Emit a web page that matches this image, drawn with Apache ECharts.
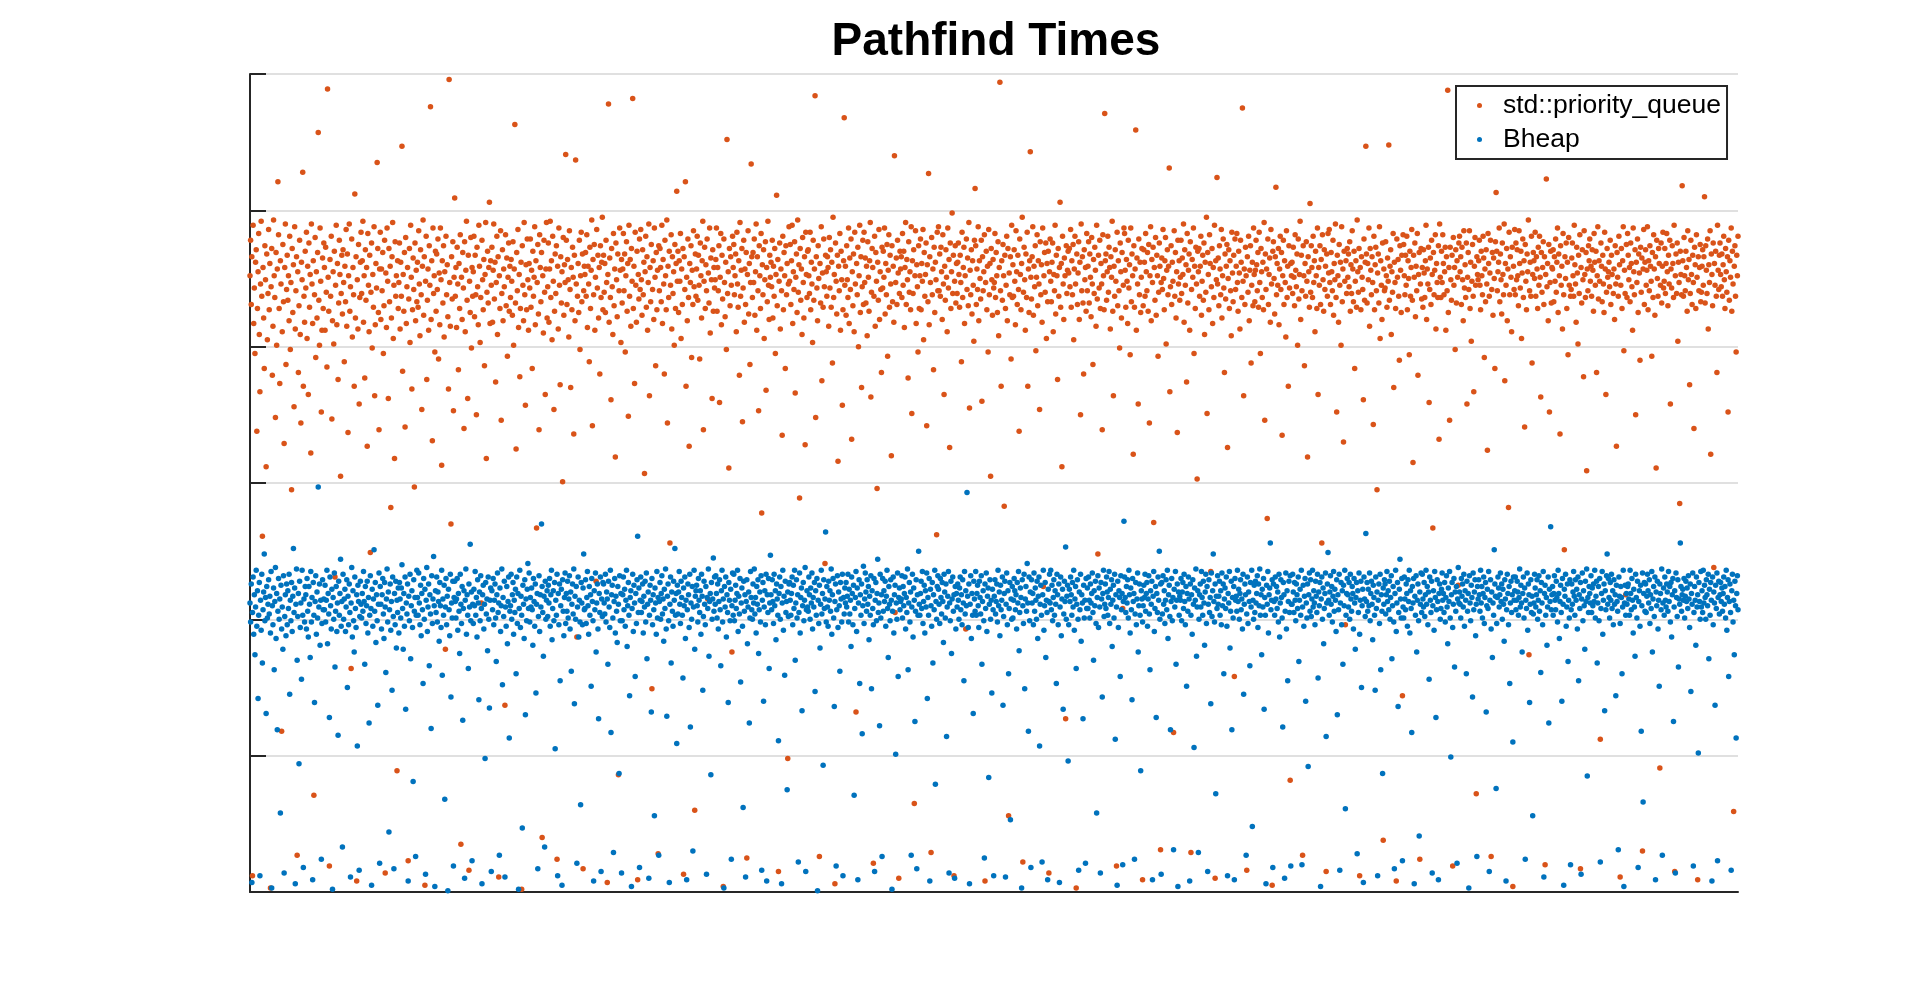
<!DOCTYPE html>
<html>
<head>
<meta charset="utf-8">
<title>Pathfind Times</title>
<script src="https://cdn.jsdelivr.net/npm/echarts@6/dist/echarts.min.js"></script>
<style>
  html, body { margin: 0; padding: 0; background: #fff; }
  #chart { width: 1920px; height: 1003px; }
</style>
</head>
<body>
<div id="chart"></div>
<script>
// series names, in plotting order (blue is drawn last, on top)
const seriesNames = ['std::priority_queue', 'Bheap']
const seriesColors = ['#D95319', '#0072BD']

// y ticks (no labels are shown in the figure)
const yTicks = [0, 100, 200, 300, 400, 500, 600]

// pathfind time per run (x = run index)
const priorityQueueTimes = [
452,478,431,466,12,489,417,443,395,462,471,338,428,455,483,409,367,446,492,437,261,458,421,384,474,449,312,468,405,439,
486,427,461,3,444,472,379,415,493,452,436,348,469,401,457,521,482,428,373,463,446,118,411,475,433,329,458,490,387,442,
467,434,452,419,481,398,447,295,472,425,460,356,488,413,441,466,27,455,381,430,478,409,344,462,449,528,371,437,418,470,
443,484,406,459,365,476,429,453,322,490,446,417,463,71,438,480,392,455,421,469,557,434,401,487,448,352,412,465,428,476,
458,412,473,440,385,589,451,426,19,464,437,481,347,419,455,402,470,231,445,489,416,461,376,432,478,453,305,439,467,424,
471,447,389,459,433,486,415,468,337,452,490,426,444,164,479,407,458,438,371,512,421,466,8,449,413,475,358,436,462,484,
439,463,492,418,452,377,471,434,458,327,483,445,411,467,249,440,476,399,453,429,488,364,416,461,443,535,472,425,339,457,
484,420,457,441,469,395,430,478,14,454,414,487,448,362,472,433,459,282,421,466,491,406,445,318,477,437,452,89,463,428,
447,476,413,462,437,547,382,453,426,469,341,480,417,444,458,23,435,472,403,489,451,369,427,465,442,297,476,419,456,433,
462,429,485,446,408,471,438,354,459,493,423,466,5,448,481,376,434,457,412,474,445,576,420,463,331,487,439,452,396,470,
426,468,442,479,391,454,416,487,449,313,463,432,474,407,455,178,481,438,460,422,369,596,447,415,270,466,435,477,353,451,
509,437,458,414,473,446,383,461,428,482,35,451,420,469,443,340,477,411,456,492,434,362,467,16,448,425,480,399,458,437,
455,481,422,467,438,350,473,444,416,489,459,403,436,212,478,449,427,464,386,453,491,318,440,470,432,458,506,417,463,445,
473,418,456,490,435,462,374,447,481,409,466,11,452,428,485,346,439,471,419,457,444,137,482,430,465,393,451,476,426,459,
436,464,448,423,477,401,457,563,432,325,469,441,486,414,453,378,428,462,2,474,445,419,491,438,357,460,427,479,449,412,
461,443,479,429,456,384,470,437,451,488,416,463,267,447,475,424,339,482,458,433,469,40,452,410,478,440,365,457,491,421,
444,476,418,457,492,436,463,405,481,448,354,426,468,439,474,24,459,413,487,445,372,466,432,455,301,480,423,460,447,541,
478,431,464,449,407,485,442,370,458,427,473,451,336,467,419,537,446,187,437,461,425,478,398,452,484,433,468,17,441,459,
453,469,437,482,414,459,446,389,473,428,456,493,342,464,438,475,412,451,228,486,443,467,421,458,380,474,436,462,495,427,
467,440,461,425,478,447,7,453,578,418,465,436,361,472,444,409,483,430,457,319,476,449,422,468,86,441,487,456,403,464,
432,457,483,441,468,396,452,477,426,461,349,489,437,464,415,472,448,582,428,459,373,484,445,418,470,9,453,435,479,442,
486,449,423,471,438,462,307,455,481,429,466,412,447,490,364,458,433,475,149,442,463,420,487,451,386,469,427,456,28,474,
441,472,458,433,489,417,464,446,380,478,452,427,493,344,459,436,470,256,445,482,413,466,439,455,401,475,428,461,514,448,
470,425,463,448,483,406,457,431,472,13,466,442,521,371,451,419,479,436,327,461,447,474,392,456,431,485,444,60,468,437,
457,481,434,467,445,391,476,452,421,463,492,339,448,473,428,460,441,479,215,454,432,487,410,465,449,362,471,426,458,443,
449,464,487,426,458,441,474,359,451,483,416,467,435,4,479,447,422,462,398,552,439,455,311,472,430,466,445,176,481,458,
475,438,452,468,411,484,446,429,463,379,491,437,456,472,345,443,478,418,457,431,469,25,453,485,424,461,387,447,534,466,
436,469,447,479,423,455,490,412,466,441,353,474,452,428,483,278,460,438,471,406,449,477,368,458,433,492,445,420,467,451,
462,444,478,421,459,437,472,395,453,511,430,464,15,448,476,413,457,441,335,481,427,469,452,384,474,438,461,98,446,488,
448,475,431,463,489,417,455,442,477,366,451,468,425,493,440,460,289,472,434,457,409,480,447,421,466,328,484,453,436,470,
471,452,439,484,427,462,446,403,478,434,457,584,348,466,443,419,474,450,26,461,432,488,375,454,429,479,444,241,467,455,
437,466,458,415,480,443,471,429,462,388,495,436,453,6,476,448,424,467,316,459,441,483,412,470,449,357,427,463,568,445,
459,423,474,449,436,487,417,465,442,479,332,455,430,468,411,484,446,132,461,438,473,400,452,489,425,466,370,444,478,431,
484,447,465,432,459,408,477,451,426,463,491,363,440,472,458,21,437,481,415,469,448,296,462,434,486,420,455,442,381,473,
443,470,451,487,424,461,438,475,393,456,482,429,467,446,320,474,433,459,418,540,205,447,465,431,478,454,10,439,470,457,
466,436,483,445,470,414,458,491,431,464,449,377,477,440,455,427,488,351,463,439,471,65,452,485,417,460,444,396,474,428,
452,479,427,461,448,486,405,469,437,453,476,342,460,433,527,416,466,447,29,480,438,457,383,473,425,462,449,262,484,441,
488,441,468,437,473,455,420,482,446,365,459,434,471,451,411,487,443,464,326,476,428,455,498,439,467,12,448,474,432,461,
439,462,476,453,429,467,447,389,484,436,458,473,417,452,193,479,442,465,430,491,355,456,438,471,424,463,445,404,478,516,
474,431,457,442,488,419,463,450,435,478,360,466,441,455,482,8,447,470,427,459,396,486,438,461,305,472,449,423,464,443,
447,483,436,469,452,425,477,408,458,594,441,371,463,434,475,452,283,467,428,445,481,419,472,56,454,438,466,391,489,436,
460,437,471,448,416,485,455,431,467,442,338,479,453,427,461,495,22,440,473,449,412,468,436,484,371,457,425,463,543,451,
435,466,488,423,459,444,474,397,451,482,430,463,446,354,477,438,460,418,487,224,452,469,440,476,406,461,433,470,14,455,
479,448,433,462,476,411,453,441,489,424,467,452,376,472,437,458,506,429,461,312,481,446,420,465,452,127,474,439,456,470,
454,472,444,486,429,463,438,475,405,457,481,446,3,468,431,454,477,420,462,350,490,441,466,432,380,471,449,458,426,483,
441,459,477,432,468,451,422,480,446,387,464,439,473,456,415,489,435,248,467,443,478,428,461,446,339,482,452,427,571,463,
468,434,455,481,440,473,458,413,466,451,492,426,364,459,437,471,448,19,484,430,463,441,399,476,455,421,469,208,445,487,
483,456,429,464,448,417,478,443,460,394,487,433,468,452,321,474,429,457,559,412,465,446,358,479,438,462,425,451,472,9,
430,471,462,437,483,455,441,469,426,475,344,452,488,419,464,447,473,271,458,434,480,423,467,452,393,440,476,459,31,447,
465,442,486,450,427,463,480,402,456,471,438,459,531,367,444,474,431,462,448,117,485,437,469,421,455,337,478,446,463,434,
451,478,439,465,453,490,418,471,445,460,374,483,432,456,468,412,477,29,442,464,451,487,395,459,428,473,446,303,470,455,
472,437,459,481,423,448,467,434,476,409,462,440,495,351,469,453,427,482,461,235,444,472,417,458,436,489,10,463,449,524,
446,465,430,474,457,438,486,421,452,479,443,381,468,435,459,475,326,450,471,428,463,441,408,484,454,433,467,158,479,442,
459,483,447,426,470,454,413,478,462,436,575,448,364,457,431,473,452,16,466,440,481,419,456,474,388,445,462,430,487,453,
433,456,478,460,441,469,429,484,447,395,472,455,436,462,427,491,346,468,442,457,274,479,431,453,465,418,486,446,5,470,
477,450,424,466,517,438,461,445,472,416,457,481,442,469,335,452,478,431,463,447,407,485,436,459,371,474,443,82,461,452,
462,439,473,451,430,482,456,444,468,401,479,435,453,492,420,467,441,27,474,452,386,461,437,477,448,319,466,455,429,505,
440,474,458,436,481,447,463,411,470,452,428,487,365,458,445,474,431,464,256,482,449,426,471,442,459,15,468,437,483,454,
486,447,431,469,455,441,478,423,461,449,490,436,352,467,452,418,475,445,462,401,488,433,457,330,470,448,196,463,439,472,
451,468,444,477,426,460,439,485,457,433,470,384,448,463,429,493,455,440,472,12,458,427,466,451,442,361,479,434,462,547,
468,432,461,449,487,415,472,456,438,466,447,343,481,427,460,473,441,295,454,468,432,488,406,463,445,420,476,38,457,441,
443,477,452,429,465,448,548,434,459,471,409,455,440,483,370,462,447,428,8,479,451,464,437,390,474,456,425,467,144,482,
475,452,438,467,445,481,427,463,450,394,470,437,458,486,434,315,467,451,476,422,459,441,483,379,453,469,24,446,472,435,
458,429,471,454,436,463,489,420,457,446,473,359,442,465,431,478,453,267,469,438,456,482,413,461,447,436,474,332,490,451,
436,470,447,482,461,438,455,473,412,466,441,588,425,458,346,473,449,434,467,19,480,445,458,398,471,432,463,451,225,476,
481,455,466,431,473,449,419,485,443,460,436,476,358,451,469,442,485,428,462,404,448,475,437,367,459,480,445,72,466,453,
449,463,478,445,427,470,452,438,481,465,392,457,433,471,446,324,483,461,437,454,478,26,442,469,423,465,450,384,477,513,
470,441,455,462,487,433,468,449,424,476,453,438,490,375,461,445,472,419,457,282,484,438,466,451,411,473,4,459,442,486,
438,476,449,471,452,430,485,461,443,470,406,454,479,436,463,341,475,448,427,468,455,493,174,441,462,437,481,388,453,469,
463,450,484,437,466,457,428,473,445,481,451,363,469,440,458,477,431,466,20,453,523,444,461,419,475,352,447,470,432,458,
457,471,433,466,448,479,440,462,487,425,468,452,336,474,445,459,413,483,438,251,466,450,476,428,462,394,480,445,541,437,
442,465,476,452,437,489,460,446,418,473,454,402,467,439,482,17,458,432,471,449,378,485,453,436,469,309,457,441,474,463,
479,448,459,437,471,456,426,483,462,445,470,381,452,488,435,463,448,112,476,459,433,467,446,425,484,457,365,440,472,451,
455,462,444,478,431,467,453,566,439,457,420,474,446,327,469,451,437,481,460,11,445,472,428,463,488,397,456,439,218,475,
436,483,467,449,458,433,476,461,444,412,487,455,438,471,350,462,447,479,425,468,454,390,473,440,465,30,457,486,431,462,
471,445,456,488,427,463,441,474,459,448,393,469,436,482,457,423,466,311,478,450,437,472,461,91,445,476,432,459,484,443,
448,472,439,461,483,455,430,467,446,478,358,457,443,474,461,436,489,15,452,468,439,476,404,462,447,285,470,453,438,518,
463,437,480,452,441,470,458,426,485,449,464,372,439,478,453,431,467,447,340,473,460,428,482,451,9,466,441,458,475,433,
440,459,471,445,466,510,432,474,456,439,479,413,460,447,485,321,468,453,430,476,238,461,445,470,437,381,489,456,442,467,
476,453,444,468,437,460,481,449,428,472,455,440,466,352,478,434,463,451,487,426,470,446,59,459,474,437,396,467,452,481
]

const bheapTimes = [
212,198,226,7,205,231,189,218,174,209,236,195,221,142,203,227,12,214,192,233,168,207,220,248,199,216,131,224,201,211,
229,204,217,190,235,3,210,196,223,163,213,238,186,219,119,206,230,200,215,58,225,193,209,178,232,14,202,218,188,226,
196,221,208,233,145,214,199,227,191,217,252,205,223,6,211,237,170,202,219,94,228,194,212,156,236,203,18,215,198,224,
218,193,230,206,187,224,211,172,235,198,216,9,227,203,139,213,232,189,220,201,297,209,226,181,214,24,197,229,207,215,
207,225,198,214,236,182,219,204,128,231,210,193,222,2,216,200,234,165,206,224,191,212,115,228,203,219,244,195,213,33,
233,200,215,222,191,209,229,150,217,196,226,205,11,212,238,187,221,199,176,231,208,194,218,107,225,213,16,202,228,211,
201,219,206,235,213,167,224,197,210,228,190,216,124,203,232,208,5,222,195,215,251,206,227,183,218,199,137,211,234,21,
224,211,193,218,230,204,186,227,209,161,215,237,198,220,44,207,226,192,213,148,231,202,17,219,196,228,179,214,205,223,
190,227,215,201,223,240,208,178,219,195,231,134,212,204,226,8,217,199,233,171,210,221,194,81,229,206,216,26,203,236,
216,203,234,212,196,225,188,219,207,153,230,200,222,13,214,238,191,209,226,166,218,204,120,232,197,215,246,210,4,221,
205,231,198,220,213,184,227,210,194,236,159,215,203,225,68,209,230,196,217,1,222,207,188,233,143,212,201,228,19,216,
228,213,201,215,230,192,219,206,175,233,211,197,224,126,208,221,10,214,237,189,218,203,164,226,209,255,199,220,23,211,
197,222,210,235,203,216,187,229,212,141,220,199,232,208,6,218,225,193,211,98,227,204,215,177,231,200,135,214,223,15,
221,207,230,196,214,226,201,169,218,234,205,212,27,223,191,210,237,152,216,202,228,11,209,195,224,182,213,231,113,206,
210,233,200,218,227,189,214,205,222,160,231,197,219,2,208,236,194,217,203,47,225,211,186,229,130,215,199,222,241,208,
234,198,216,209,223,207,181,230,213,195,226,146,211,219,17,202,232,191,218,209,270,224,205,173,217,33,228,200,214,221,
202,225,212,230,195,218,236,185,208,221,199,227,105,214,203,233,12,219,196,226,155,210,222,5,229,206,188,216,234,197,
219,206,228,201,215,232,193,220,162,211,226,204,237,138,217,200,224,21,209,231,187,214,198,64,227,212,196,223,248,207,
208,229,197,216,235,210,189,224,203,218,151,230,213,199,8,221,207,234,176,212,226,193,127,219,205,231,15,215,202,227,
226,212,204,233,198,220,215,167,228,209,194,236,117,218,225,201,29,213,230,190,217,206,183,224,211,87,232,199,219,14,
199,218,231,207,222,195,214,236,180,210,227,203,144,216,221,4,208,233,191,225,212,158,219,197,229,261,205,223,18,214,
231,205,213,226,190,217,209,228,198,234,171,211,220,10,203,225,214,132,230,196,218,207,56,223,212,189,235,201,216,27,
213,227,200,219,232,204,215,184,222,208,237,193,129,217,226,199,7,211,231,168,220,206,195,228,214,252,203,219,109,225,
204,220,235,211,197,228,216,203,157,223,210,231,186,214,9,207,226,218,194,233,121,212,200,224,30,209,236,178,217,221,
225,210,198,230,214,205,221,189,233,217,148,202,228,211,196,224,13,216,208,237,173,213,219,86,227,200,215,245,206,231,
211,232,219,201,226,193,213,229,207,166,221,236,198,215,3,224,209,231,187,218,205,139,227,214,199,222,24,210,234,203,
233,199,214,225,208,219,236,191,217,204,230,154,212,223,195,62,228,206,218,11,213,229,182,209,220,124,201,235,216,207,
200,226,212,237,204,216,190,224,211,229,175,207,220,198,232,16,214,227,140,209,221,196,233,8,218,205,230,164,212,247,
218,207,229,213,197,233,210,221,185,226,215,203,111,219,231,200,224,6,212,236,192,217,159,228,205,213,75,220,202,226,
227,214,203,219,231,196,225,208,236,170,212,229,201,218,22,205,234,190,216,223,133,210,227,199,214,238,15,207,221,209,
206,231,218,200,223,212,234,193,216,209,227,147,221,203,230,1,214,197,225,179,211,236,204,219,93,229,208,215,264,198,
224,209,195,228,214,221,206,237,189,218,230,201,136,213,226,19,207,232,194,220,210,162,227,215,198,233,12,216,204,223,
212,227,209,217,233,198,222,204,214,180,231,219,196,225,71,208,216,235,191,223,9,212,229,153,218,203,226,116,210,239,
197,215,234,220,206,229,211,224,185,217,203,232,149,221,208,196,230,15,214,227,199,219,244,205,212,122,233,201,218,26,
230,206,221,213,228,195,217,236,208,172,224,211,199,229,214,2,206,231,190,218,225,101,212,200,234,158,216,223,207,213,
215,232,201,224,210,219,231,193,216,205,237,163,212,227,198,220,27,209,233,187,223,214,125,206,229,17,218,203,250,211,
203,219,228,208,235,197,213,225,190,221,209,234,142,216,203,230,8,222,210,195,227,168,218,207,236,79,213,200,224,232,
222,211,197,230,216,204,227,213,183,233,220,201,226,114,209,217,235,14,212,199,228,175,215,231,206,218,10,224,193,219,
209,226,214,200,223,231,207,218,196,229,212,155,235,204,221,210,293,217,194,226,6,211,232,186,219,203,131,228,215,206,
235,203,219,225,210,194,228,216,204,232,167,213,221,199,25,226,208,234,191,217,223,84,211,229,200,214,146,222,207,12,
217,229,204,213,226,198,236,210,220,188,225,207,214,231,137,202,219,228,11,211,234,196,221,160,208,227,53,215,200,224,
201,214,230,221,207,218,193,227,212,235,177,205,223,216,3,229,210,197,233,149,215,224,206,241,212,118,231,199,220,18,
229,212,219,196,234,206,223,214,200,228,186,217,231,107,211,225,203,22,218,236,192,210,227,172,214,205,9,222,213,233,
212,236,207,225,199,216,229,203,221,211,153,233,218,196,226,7,209,231,188,215,222,134,204,228,213,253,200,217,225,96,
196,222,213,231,218,203,227,209,236,192,215,224,164,211,229,200,16,220,207,233,184,218,212,127,225,201,214,21,230,208,
223,208,231,214,201,226,212,219,234,205,170,221,210,228,197,58,216,232,194,223,209,14,227,215,143,219,236,202,211,226,
208,231,220,203,216,235,197,222,211,229,180,214,225,201,233,112,218,209,5,228,194,221,216,158,232,207,219,20,213,272,
231,216,205,224,212,229,201,236,218,190,223,207,141,230,213,219,24,204,227,196,215,234,176,210,226,203,89,221,215,198,
210,225,216,233,206,219,227,195,215,232,204,163,221,211,228,9,217,235,191,208,224,128,219,205,231,214,250,200,226,13,
227,204,232,211,221,197,214,229,207,236,186,218,225,202,119,213,230,199,216,31,222,209,235,167,214,226,4,220,203,217,
214,230,199,220,227,208,233,213,196,224,151,219,206,231,215,8,226,203,218,189,229,211,106,223,214,237,173,209,221,29,
200,218,226,209,235,216,203,228,212,181,220,233,197,224,15,211,229,205,216,138,234,202,221,248,213,198,226,72,217,208,
232,211,217,228,203,221,196,234,210,226,160,215,223,208,231,195,12,219,212,235,179,206,228,119,216,201,224,9,230,214,
217,206,236,213,222,200,219,229,207,215,193,233,145,211,226,218,27,204,231,197,220,213,166,227,209,236,48,214,200,225,
205,228,212,219,232,194,226,210,237,203,218,174,222,209,230,134,216,203,6,225,211,235,190,218,223,256,207,214,229,18,
226,213,203,231,215,224,208,220,198,233,187,212,229,216,201,121,227,218,10,206,234,193,221,155,213,228,205,232,19,211,
211,233,220,205,227,214,199,226,218,208,231,169,214,222,203,236,20,209,225,195,217,230,140,212,201,226,92,218,234,206,
229,202,215,236,209,221,212,196,228,217,205,233,157,220,210,227,4,215,231,200,223,182,208,219,234,114,212,226,249,214,
203,220,232,211,224,198,217,235,206,222,214,191,229,130,218,207,233,16,212,227,196,221,167,225,210,236,61,203,219,230,
218,209,227,200,233,215,206,224,219,193,230,212,178,216,227,28,221,205,234,189,214,228,150,210,222,7,231,215,202,263,
213,227,206,222,210,234,199,219,228,211,185,225,216,203,148,231,208,220,12,214,226,197,233,163,218,206,87,223,211,229,
226,204,218,235,213,221,207,228,200,216,232,171,210,224,198,17,219,236,191,212,227,136,205,222,244,215,201,230,23,209,
201,231,215,207,226,219,195,229,213,236,190,221,208,117,224,212,230,6,217,203,232,176,214,226,199,41,220,211,234,205,
233,215,209,227,202,218,236,211,224,196,220,156,231,214,205,228,14,210,221,192,235,216,128,207,229,213,9,219,226,200,
208,222,234,214,219,205,227,198,216,232,209,182,223,213,235,201,99,218,227,194,211,230,165,220,206,224,21,215,238,212,
220,211,201,230,217,226,209,233,195,221,214,160,228,206,219,3,232,212,199,225,216,143,234,207,220,229,188,211,26,224,
215,229,218,206,236,212,224,201,219,231,197,216,227,132,210,222,208,235,15,214,229,193,220,172,212,203,251,226,217,76,
197,216,231,223,209,218,234,213,226,200,222,211,184,229,215,8,207,233,219,196,224,153,212,228,205,218,110,231,214,221,
231,207,214,228,220,203,216,237,209,225,212,176,219,231,201,223,24,214,208,234,192,226,218,139,211,229,205,217,56,204,
212,233,223,209,218,229,200,214,232,206,221,161,227,212,196,235,11,219,225,203,216,181,209,231,124,222,213,268,207,218,
224,203,219,232,214,207,228,216,198,236,219,186,213,225,205,140,230,211,5,222,217,233,195,209,226,169,214,201,229,20,
207,226,211,220,235,217,203,229,214,222,193,231,155,218,208,227,13,215,234,199,221,210,178,228,213,237,85,216,205,224,
219,212,232,205,223,210,226,213,236,201,217,228,168,212,224,199,230,22,208,219,235,189,214,226,133,221,207,232,248,211,
230,216,201,227,214,233,208,221,196,229,211,218,144,225,213,206,31,231,217,197,224,216,160,209,236,4,212,225,203,219,
211,224,226,215,203,236,219,207,230,214,190,222,209,173,233,216,201,228,18,213,221,195,225,118,210,234,66,219,227,206,
226,205,217,233,221,212,229,197,218,208,235,176,215,224,202,231,9,220,210,228,193,214,151,226,219,207,237,27,212,223,
203,231,214,209,226,220,206,235,213,224,198,227,187,218,230,125,209,221,14,234,216,202,229,165,215,211,256,224,206,218,
222,214,230,201,217,228,213,223,208,232,215,194,226,147,219,211,234,19,205,224,214,181,231,209,218,102,227,213,200,235,
209,221,205,236,212,225,216,200,229,218,210,233,171,222,203,227,214,8,231,196,220,212,137,225,208,234,23,216,228,204,
218,227,213,223,206,219,231,211,224,201,236,192,216,229,158,213,226,205,16,221,233,198,214,174,228,210,113,219,232,207
]

const runCount = Math.max(priorityQueueTimes.length, bheapTimes.length)

function toPoints(values) {
  return values.map(function (v, i) { return [i, v] })
}

let chart = echarts.init(document.getElementById('chart'), null, {renderer: 'canvas'})

let axisColor = '#262626'

let option = {
  animation: false,
  backgroundColor: '#ffffff',
  title: {
    text: 'Pathfind Times',
    left: 991,
    top: 14,
    textAlign: 'center',
    textStyle: {
      fontFamily: 'Liberation Sans, Arial, sans-serif',
      fontSize: 46,
      fontWeight: 'bold',
      color: '#000'
    }
  },
  legend: {
    data: seriesNames,
    orient: 'vertical',
    left: 1456,
    top: 86,
    padding: [6, 6, 6, 21],
    itemGap: 7,
    itemWidth: 5,
    itemHeight: 5,
    icon: 'circle',
    borderColor: axisColor,
    borderWidth: 2,
    backgroundColor: '#fff',
    textStyle: {
      fontFamily: 'Liberation Sans, Arial, sans-serif',
      fontSize: 26.5,
      color: '#000',
      padding: [0, 0, 0, 16]
    }
  },
  grid: {
    left: 250,
    right: 182,
    top: 74,
    bottom: 111,
    containLabel: false
  },
  xAxis: {
    type: 'value',
    min: 0,
    max: runCount - 1,
    axisLine: { show: true, onZero: false, lineStyle: { color: axisColor, width: 2 } },
    axisTick: { show: false },
    axisLabel: { show: false },
    splitLine: { show: false }
  },
  yAxis: {
    type: 'value',
    min: yTicks[0],
    max: yTicks[yTicks.length - 1],
    interval: yTicks[1] - yTicks[0],
    axisLine: { show: true, lineStyle: { color: axisColor, width: 2 } },
    axisTick: { show: true, inside: true, length: 16, lineStyle: { color: axisColor, width: 2 } },
    axisLabel: { show: false },
    splitLine: { show: true, lineStyle: { color: '#e0e0e0', width: 2 } }
  },
  series: [
    {
      name: seriesNames[0],
      type: 'scatter',
      data: toPoints(priorityQueueTimes),
      symbol: 'circle',
      symbolSize: 5.5,
      itemStyle: { color: seriesColors[0], opacity: 1 },
      progressive: 0,
      large: false,
      silent: true
    },
    {
      name: seriesNames[1],
      type: 'scatter',
      data: toPoints(bheapTimes),
      symbol: 'circle',
      symbolSize: 5.5,
      itemStyle: { color: seriesColors[1], opacity: 1 },
      progressive: 0,
      large: false,
      silent: true
    }
  ]
}

chart.setOption(option)
</script>
</body>
</html>
